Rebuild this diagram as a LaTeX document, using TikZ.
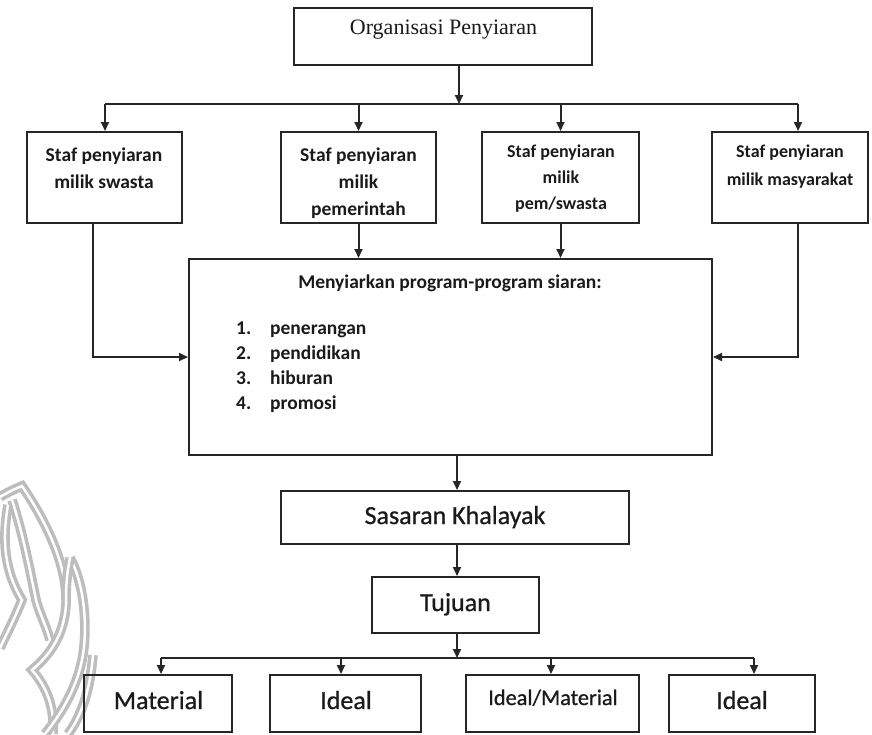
\documentclass[tikz,border=0pt]{standalone}
\usepackage{fontspec}
\setmainfont{Carlito}
\newfontfamily\timesf{Liberation Serif}
\newfontfamily\calmed[FakeBold=0.8]{Carlito}
\usetikzlibrary{arrows.meta}
\definecolor{linec}{HTML}{262626}
\definecolor{textc}{HTML}{1A1A1A}
\definecolor{wmark}{HTML}{BDBDBD}
\begin{document}
\begin{tikzpicture}[x=1pt,y=-1pt,
  box/.style={draw=linec, line width=2pt, rectangle, inner sep=0pt},
  conn/.style={draw=linec, line width=2pt},
  arr/.style={conn, -{Triangle[length=9pt,width=8pt]}},
  txt/.style={anchor=base, inner sep=0pt, text=textc},
  stafA/.style={txt, font=\bfseries\fontsize{19.5}{23}\selectfont},
  stafB/.style={txt, font=\bfseries\fontsize{18}{22}\selectfont},
  mtxt/.style={txt, font=\bfseries\fontsize{19.5}{23}\selectfont},
  big/.style={txt, font=\calmed\fontsize{26}{30}\selectfont},
  wm/.style={draw=wmark, line width=3.6pt, double=white, double distance=2.5pt}
]
\useasboundingbox (0,0) rectangle (872,734);

% watermark
\draw[wm] (0,497) .. controls (8,492) and (15,489) .. (22,486)
  .. controls (45,520) and (68,565) .. (66,605)
  .. controls (64,635) and (50,655) .. (32,670)
  .. controls (45,685) and (55,705) .. (53,734);
\draw[wm] (12,500) .. controls (22,530) and (30,570) .. (36,600)
  .. controls (40,615) and (46,625) .. (50,640);
\draw[wm] (8,505) .. controls (2,540) and (4,570) .. (22,600)
  .. controls (14,620) and (6,635) .. (0,648);
\draw[wm] (70,558) .. controls (85,585) and (88,630) .. (82,660)
  .. controls (76,690) and (60,715) .. (45,734);
\draw[wm] (70,558) .. controls (67,572) and (66,586) .. (66,600);
\draw[wm] (93,655) .. controls (90,690) and (82,715) .. (68,734);

% boxes
\node[box, line width=1.4pt, fill=white, minimum width=298pt, minimum height=57pt] (org) at (443,36.5) {};
\node[txt, font=\timesf\fontsize{22}{26}\selectfont] (orgt) at (443.5,34) {Organisasi Penyiaran};

\node[box, minimum width=155pt, minimum height=91pt] (s1) at (104.5,177.5) {};
\node[box, minimum width=155pt, minimum height=91pt] (s2) at (358.5,177.5) {};
\node[box, minimum width=157pt, minimum height=91pt] (s3) at (560.5,177.5) {};
\node[box, minimum width=156pt, minimum height=91pt] (s4) at (790,177.5) {};

\node[stafA] (s1a) at (104,161) {Staf penyiaran};
\node[stafA] (s1b) at (104,188) {milik swasta};
\node[stafA] (s2a) at (358.5,161) {Staf penyiaran};
\node[stafA] (s2b) at (358.5,188) {milik};
\node[stafA] (s2c) at (358.5,215) {pemerintah};
\node[stafB] (s3a) at (561,157.5) {Staf penyiaran};
\node[stafB] (s3b) at (561,183.5) {milik};
\node[stafB] (s3c) at (561,209.5) {pem/swasta};
\node[stafB] (s4a) at (790,157.5) {Staf penyiaran};
\node[stafB] (s4b) at (790,185.5) {milik masyarakat};

\node[box, minimum width=523pt, minimum height=196pt] (main) at (450.5,357) {};
\node[mtxt] (mt) at (450,288) {Menyiarkan program-program siaran:};
\node[mtxt, anchor=base west] (n1) at (236,334) {1.};
\node[mtxt, anchor=base west] (i1) at (270,334) {penerangan};
\node[mtxt, anchor=base west] (n2) at (236,359) {2.};
\node[mtxt, anchor=base west] (i2) at (270,359) {pendidikan};
\node[mtxt, anchor=base west] (n3) at (236,384) {3.};
\node[mtxt, anchor=base west] (i3) at (270,384) {hiburan};
\node[mtxt, anchor=base west] (n4) at (236,409) {4.};
\node[mtxt, anchor=base west] (i4) at (270,409) {promosi};

\node[box, minimum width=348pt, minimum height=53pt] (sas) at (455,517.5) {};
\node[big] (sast) at (455,524) {Sasaran Khalayak};
\node[box, minimum width=167pt, minimum height=56pt] (tuj) at (455.5,605) {};
\node[big] (tujt) at (455.5,611) {Tujuan};

\node[box, minimum width=148pt, minimum height=57pt] (b1) at (158,703.5) {};
\node[box, minimum width=151pt, minimum height=57pt] (b2) at (345.5,703.5) {};
\node[box, minimum width=173pt, minimum height=57pt] (b3) at (552.5,703.5) {};
\node[box, minimum width=146pt, minimum height=57pt] (b4) at (742,703.5) {};
\node[big] (b1t) at (158.5,709) {Material};
\node[big] (b2t) at (346,709) {Ideal};
\node[txt, font=\calmed\fontsize{22.3}{26}\selectfont] (b3t) at (553,705) {Ideal/Material};
\node[big] (b4t) at (742,709) {Ideal};

% connectors top
\coordinate (jt) at (459,104);
\coordinate (bl) at (105,104);
\coordinate (br) at (798,104);
\draw[arr] (org.south -| jt) -- (jt);
\draw[conn] (bl) -- (br);
\draw[arr] (bl) -- (bl |- s1.north);
\draw[arr] (jt -| s2.north) -- (s2.north);
\draw[arr] (jt -| s3.north) -- (s3.north);
\draw[arr] (br) -- (br |- s4.north);

\coordinate (lx) at (93,0);
\coordinate (rx) at (798,0);
\draw[arr] (s1.south -| lx) |- (main.west);
\draw[arr] (s4.south -| rx) |- (main.east);
\draw[arr] (s2.south) -- (s2.south |- main.north);
\draw[arr] (s3.south) -- (s3.south |- main.north);

\coordinate (mx) at (457,0);
\draw[arr] (main.south -| mx) -- (sas.north -| mx);
\draw[arr] (sas.south -| mx) -- (tuj.north -| mx);

\coordinate (jb) at (457,658);
\coordinate (bbl) at (161,658);
\coordinate (d2) at (341,658);
\coordinate (d3) at (551,658);
\coordinate (bbr) at (754,658);
\draw[arr] (tuj.south -| jb) -- (jb);
\draw[conn] (bbl) -- (bbr);
\draw[arr] (bbl) -- (bbl |- b1.north);
\draw[arr] (d2) -- (d2 |- b2.north);
\draw[arr] (d3) -- (d3 |- b3.north);
\draw[arr] (bbr) -- (bbr |- b4.north);
\end{tikzpicture}
\end{document}
